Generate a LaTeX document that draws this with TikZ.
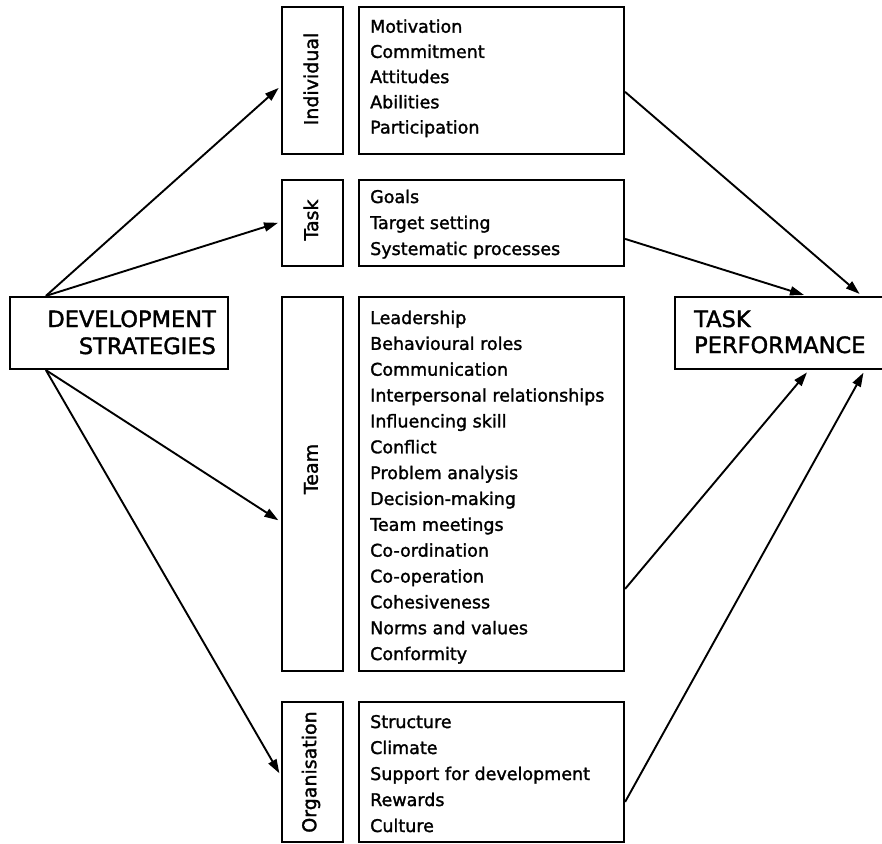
\documentclass[tikz,border=0pt]{standalone}
\usepackage{fontspec}
\setmainfont{DejaVu Sans}
\newfontfamily\heavyfont{DejaVu Sans}[FakeBold=1.6]
\usetikzlibrary{arrows.meta,calc}
\begin{document}
\begin{tikzpicture}[x=1pt,y=-1pt,
  box/.style={draw, line width=2.2pt, inner sep=0pt},
  conn/.style={line width=1.9pt, -{Triangle[length=14pt,width=9pt]}, shorten >=3pt},
  item/.style={anchor=base west, inner sep=0pt, font=\heavyfont\fontsize{17.5}{21}\selectfont},
  big/.style={inner sep=0pt, font=\heavyfont\fontsize{22.5}{27}\selectfont},
  cat/.style={rotate=90, inner sep=0pt, font=\heavyfont\fontsize{19}{23}\selectfont}]
\useasboundingbox (0,0) rectangle (882,843);
\clip (0,0) rectangle (882,843);

% outer boxes
\node[box, minimum width=218pt, minimum height=72pt] (dev) at (119,333) {};
\node[box, minimum width=211pt, minimum height=72pt] (tp) at (780.5,333) {};

% category boxes (left) and item boxes (right)
\node[box, minimum width=61pt, minimum height=147pt] (lI) at (312.5,80.5) {};
\node[box, minimum width=265pt, minimum height=147pt] (iI) at (491.5,80.5) {};
\node[box, minimum width=61pt, minimum height=86pt] (lT) at (312.5,223) {};
\node[box, minimum width=265pt, minimum height=86pt] (iT) at (491.5,223) {};
\node[box, minimum width=61pt, minimum height=374pt] (lM) at (312.5,484) {};
\node[box, minimum width=265pt, minimum height=374pt] (iM) at (491.5,484) {};
\node[box, minimum width=61pt, minimum height=140pt] (lO) at (312.5,772) {};
\node[box, minimum width=265pt, minimum height=140pt] (iO) at (491.5,772) {};

% main labels
\node[big, anchor=base east] (dev1) at (216,327) {DEVELOPMENT};
\node[big, anchor=base east] (dev2) at (216,354) {STRATEGIES};
\node[big, anchor=base west] (tp1) at (694,327) {TASK};
\node[big, anchor=base west] (tp2) at (694,353) {PERFORMANCE};

% category labels
\node[cat] (tI) at (311,79) {Individual};
\node[cat] (tT) at (311,220) {Task};
\node[cat] (tM) at (311,469) {Team};
\node[cat] (tO) at (311,772) {Organisation};

% item lists
\foreach \t [count=\i from 0] in {Motivation,Commitment,Attitudes,Abilities,Participation}
  \node[item] (ind\i) at (370,32.7+25.2*\i) {\t};
\foreach \t [count=\i from 0] in {Goals,Target setting,Systematic processes}
  \node[item] (tsk\i) at (370,203+26*\i) {\t};
\foreach \t [count=\i from 0] in {Leadership,Behavioural roles,Communication,
    Interpersonal relationships,Influencing skill,Conflict,Problem analysis,
    Decision-making,Team meetings,Co-ordination,Co-operation,Cohesiveness,
    Norms and values,Conformity}
  \node[item] (tm\i) at (370,324+25.85*\i) {\t};
\foreach \t [count=\i from 0] in {Structure,Climate,Support for development,Rewards,Culture}
  \node[item] (org\i) at (370,728+26*\i) {\t};

% connector end points
\coordinate (sT) at ($(dev.north west)+(37,0)$);
\coordinate (sB) at ($(dev.south west)+(37,0)$);
\coordinate (eI) at ($(lI.north west)+(0,80)$);
\coordinate (eT) at ($(lT.north west)+(0,43)$);
\coordinate (eM) at ($(lM.north west)+(0,226)$);
\coordinate (eO) at ($(lO.north west)+(0,75)$);
\coordinate (rI) at ($(iI.north east)+(0,86)$);
\coordinate (rT) at ($(iT.north east)+(0,60)$);
\coordinate (rM) at ($(iM.north east)+(0,293)$);
\coordinate (rO) at ($(iO.north east)+(0,101)$);
\coordinate (pI) at ($(tp.north west)+(188,0)$);
\coordinate (pT) at ($(tp.north west)+(133,0)$);
\coordinate (pM) at ($(tp.south west)+(135,0)$);
\coordinate (pO) at ($(tp.south west)+(191,0)$);

% connectors
\draw[conn] (sT) -- (eI);
\draw[conn] (sT) -- (eT);
\draw[conn] (sB) -- (eM);
\draw[conn] (sB) -- (eO);
\draw[conn] (rI) -- (pI);
\draw[conn] (rT) -- (pT);
\draw[conn] (rM) -- (pM);
\draw[conn] (rO) -- (pO);
\end{tikzpicture}
\end{document}
